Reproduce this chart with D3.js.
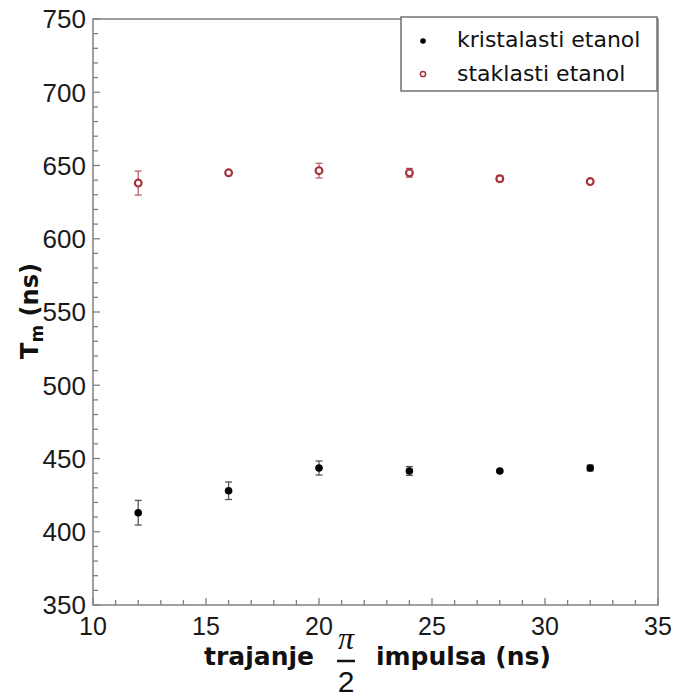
<!DOCTYPE html>
<html>
<head>
<meta charset="utf-8">
<script src="https://cdn.jsdelivr.net/npm/d3@7"></script>
<style>
  html, body { margin: 0; padding: 0; background: #fff; }
  svg { display: block; }
</style>
</head>
<body>
<svg id="chart" width="675" height="697"></svg>
<script>
// Pulse duration (ns)
const pulseDurations = [12, 16, 20, 24, 28, 32];

// Crystalline ethanol: T_m (ns) and error
const crystalValues = [413, 428, 443.5, 441.5, 441.5, 443.5];
const crystalErrors = [8.4, 6, 4.8, 3, 0.5, 2];

// Glassy ethanol: T_m (ns) and error
const glassValues = [638, 645, 646.5, 645, 641, 639];
const glassErrors = [8.2, 1, 5, 3, 2, 1];

const xTicks = [10, 15, 20, 25, 30, 35];
const yTicks = [350, 400, 450, 500, 550, 600, 650, 700, 750];
const legendLabels = ["kristalasti etanol", "staklasti etanol"];

const svg = d3.select("#chart");
const plotLeft = 93, plotRight = 658, plotTop = 19, plotBottom = 605;

const x = d3.scaleLinear().domain([10, 35]).range([plotLeft, plotRight]);
const y = d3.scaleLinear().domain([350, 750]).range([plotBottom, plotTop]);

const axisColor = "#808080";
const redColor = "#a8323a";

// Frame
svg.append("rect")
  .attr("x", plotLeft).attr("y", plotTop)
  .attr("width", plotRight - plotLeft).attr("height", plotBottom - plotTop)
  .attr("fill", "none").attr("stroke", axisColor).attr("stroke-width", 1.5);

// Bottom axis: major ticks every 5, minor every 1, pointing inward
const gx = svg.append("g");
d3.range(10, 35.01, 1).forEach(v => {
  const major = v % 5 === 0;
  gx.append("line")
    .attr("x1", x(v)).attr("x2", x(v))
    .attr("y1", plotBottom).attr("y2", plotBottom - (major ? 7 : 5))
    .attr("stroke", axisColor).attr("stroke-width", 1.3);
});
gx.selectAll("text.xt").data(xTicks).join("text")
  .attr("class", "xt")
  .attr("x", d => x(d)).attr("y", 635)
  .attr("text-anchor", "middle")
  .attr("font-family", "'Liberation Sans', Arial, sans-serif")
  .attr("font-size", 25).attr("fill", "#1a1a1a")
  .text(d => d);

// Left axis: major ticks every 50, minor every 10
const gy = svg.append("g");
d3.range(350, 750.01, 10).forEach(v => {
  const major = v % 50 === 0;
  gy.append("line")
    .attr("x1", plotLeft).attr("x2", plotLeft + (major ? 7 : 5))
    .attr("y1", y(v)).attr("y2", y(v))
    .attr("stroke", axisColor).attr("stroke-width", 1.3);
});
gy.selectAll("text.yt").data(yTicks).join("text")
  .attr("class", "yt")
  .attr("x", 86).attr("y", d => y(d))
  .attr("dy", "0.36em")
  .attr("text-anchor", "end")
  .attr("font-family", "'Liberation Sans', Arial, sans-serif")
  .attr("font-size", 26).attr("fill", "#1a1a1a")
  .text(d => d);

// Y axis title: T_m (ns)
const yTitle = svg.append("text")
  .attr("transform", "translate(38,311) rotate(-90)")
  .attr("text-anchor", "middle")
  .attr("font-family", "'DejaVu Sans', Verdana, sans-serif")
  .attr("font-weight", "bold").attr("font-size", 24).attr("fill", "#111");
yTitle.append("tspan").text("T");
yTitle.append("tspan").attr("font-size", 17).attr("dy", 5).text("m");
yTitle.append("tspan").attr("dy", -5).text(" (ns)");

// X axis title with pi/2 fraction
const titleFont = "'DejaVu Sans', Verdana, sans-serif";
svg.append("text")
  .attr("x", 314).attr("y", 665).attr("text-anchor", "end")
  .attr("font-family", titleFont).attr("font-weight", "bold")
  .attr("font-size", 25).attr("fill", "#111")
  .text("trajanje");
svg.append("text")
  .attr("x", 376).attr("y", 665)
  .attr("font-family", titleFont).attr("font-weight", "bold")
  .attr("font-size", 25).attr("fill", "#111")
  .text("impulsa (ns)");
svg.append("text")
  .attr("x", 346).attr("y", 649).attr("text-anchor", "middle")
  .attr("font-family", "'Liberation Serif', 'Times New Roman', serif")
  .attr("font-style", "italic").attr("font-size", 32).attr("fill", "#111")
  .text("π");
svg.append("line")
  .attr("x1", 337).attr("x2", 355).attr("y1", 661).attr("y2", 661)
  .attr("stroke", "#111").attr("stroke-width", 2.5);
svg.append("text")
  .attr("x", 346).attr("y", 692).attr("text-anchor", "middle")
  .attr("font-family", "'Liberation Sans', Arial, sans-serif")
  .attr("font-size", 30).attr("fill", "#111")
  .text("2");

// Error bars helper
function drawErrors(g, values, errors, color) {
  const data = pulseDurations.map((d, i) => ({ x: d, v: values[i], e: errors[i] }));
  const eb = g.selectAll("g.eb").data(data).join("g").attr("class", "eb")
    .attr("stroke", color).attr("stroke-width", 1.3);
  eb.append("line")
    .attr("x1", d => x(d.x)).attr("x2", d => x(d.x))
    .attr("y1", d => y(d.v - d.e)).attr("y2", d => y(d.v + d.e));
  eb.append("line")
    .attr("x1", d => x(d.x) - 3.5).attr("x2", d => x(d.x) + 3.5)
    .attr("y1", d => y(d.v - d.e)).attr("y2", d => y(d.v - d.e));
  eb.append("line")
    .attr("x1", d => x(d.x) - 3.5).attr("x2", d => x(d.x) + 3.5)
    .attr("y1", d => y(d.v + d.e)).attr("y2", d => y(d.v + d.e));
}

// Crystalline series: filled black dots
const gc = svg.append("g");
drawErrors(gc, crystalValues, crystalErrors, "#555");
gc.selectAll("circle").data(crystalValues).join("circle")
  .attr("cx", (d, i) => x(pulseDurations[i])).attr("cy", d => y(d))
  .attr("r", 3.8).attr("fill", "#000");

// Glassy series: open red circles
const gg = svg.append("g");
drawErrors(gg, glassValues, glassErrors, "#b86266");
gg.selectAll("circle").data(glassValues).join("circle")
  .attr("cx", (d, i) => x(pulseDurations[i])).attr("cy", d => y(d))
  .attr("r", 3.4).attr("fill", "#fff")
  .attr("stroke", redColor).attr("stroke-width", 2.2);

// Legend
const lg = svg.append("g");
lg.append("rect")
  .attr("x", 401).attr("y", 17).attr("width", 256).attr("height", 74)
  .attr("fill", "#fff").attr("stroke", "#707070").attr("stroke-width", 1.5);
lg.append("circle").attr("cx", 423).attr("cy", 41).attr("r", 2.8).attr("fill", "#000");
lg.append("circle").attr("cx", 423).attr("cy", 74).attr("r", 2.6)
  .attr("fill", "#fff").attr("stroke", redColor).attr("stroke-width", 1.5);
lg.selectAll("text").data(legendLabels).join("text")
  .attr("x", 457).attr("y", (d, i) => 47 + i * 34)
  .attr("font-family", "'DejaVu Sans', Verdana, sans-serif")
  .attr("font-size", 22).attr("fill", "#111")
  .text(d => d);
</script>
</body>
</html>
